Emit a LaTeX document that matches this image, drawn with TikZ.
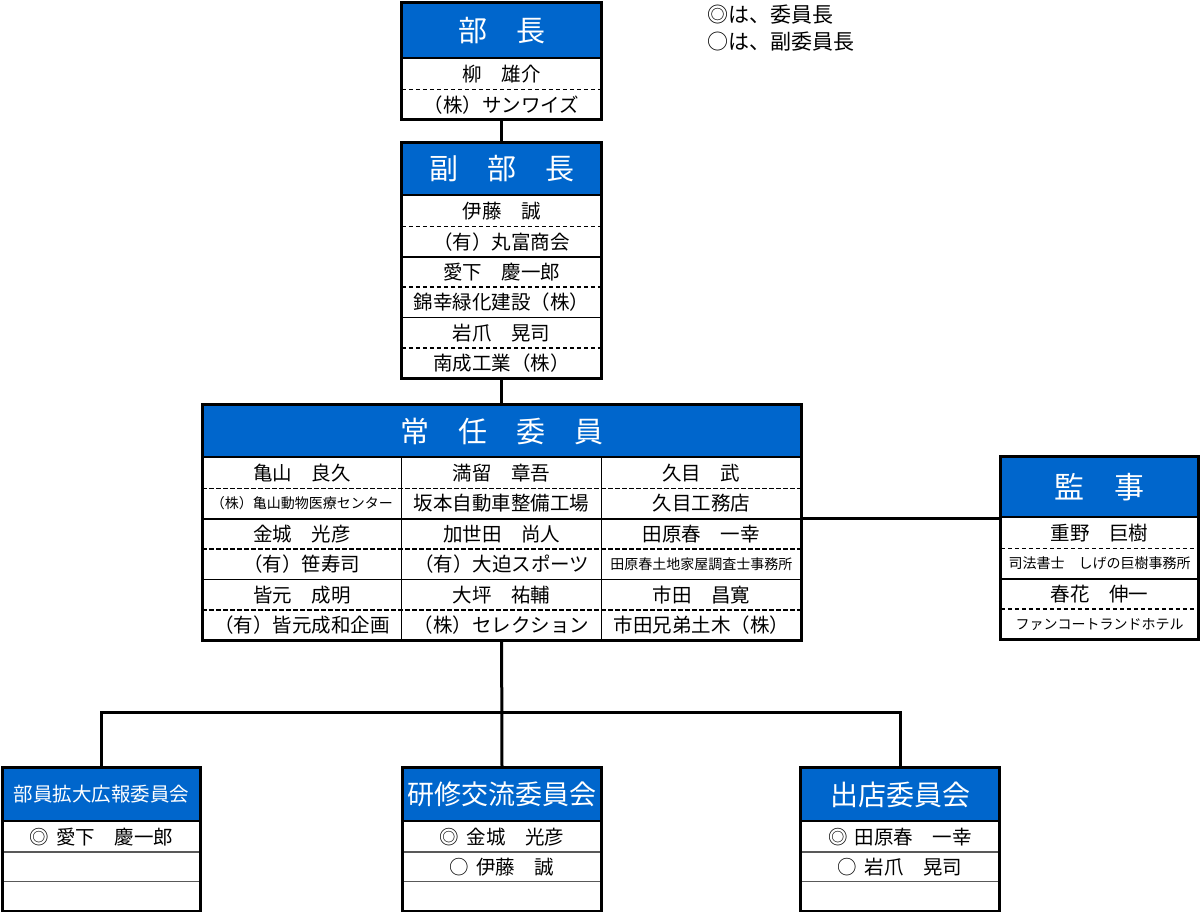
\documentclass[tikz,border=0pt]{standalone}
\usepackage{fontspec}
\setmainfont{Noto Sans CJK JP}
\usepackage{xcolor}
\usepackage{tikz}
\usetikzlibrary{positioning}
\definecolor{headblue}{RGB}{0,102,204}
\newcommand{\ptsize}[1]{\fontsize{#1}{#1}\selectfont}

\begin{document}
\begin{tikzpicture}[x=1pt, y=-1pt,
  head/.style={draw, line width=2pt, fill=headblue, text=white, anchor=north west, inner sep=0pt, font=\ptsize{29}},
  cell/.style={inner sep=0pt, minimum width=#1, minimum height=30pt, font=\ptsize{19.5}},
  cell/.default=199pt,
  small/.style={font=\ptsize{14}},
  frame/.style={draw, line width=3pt},
  dline/.style={dash pattern=on 4.5pt off 2.5pt, line width=1.7pt},
  sline/.style={line width=1.5pt},
  gline/.style={gray!70!black, line width=1.3pt},
  conn/.style={line width=3pt}
]
  \useasboundingbox (0,0) rectangle (1200,911);

  % legend
  \node[anchor=north west, align=left, inner sep=0pt, font=\ptsize{21}] (note) at (707,5)
    {◎は、委員長\\[6pt]○は、副委員長};

  % bucho
  \node[head, minimum width=199pt, minimum height=55pt] (bucho) at (401,2) {部　長};
  \node[cell, below=0pt of bucho] (bucho1) {柳　雄介};
  \node[cell, below=0pt of bucho1] (bucho2) {（株）サンワイズ};
  \draw[dline] (bucho1.south west) -- (bucho1.south east);
  \draw[frame] (bucho.north west) rectangle (bucho2.south east);

  % fuku-bucho
  \node[head, minimum width=199pt, minimum height=52pt] (fuku) at (401,142) {副　部　長};
  \node[cell, below=0pt of fuku]  (fuku1) {伊藤　誠};
  \node[cell, below=0pt of fuku1] (fuku2) {（有）丸富商会};
  \node[cell, below=0pt of fuku2] (fuku3) {愛下　慶一郎};
  \node[cell, below=0pt of fuku3] (fuku4) {錦幸緑化建設（株）};
  \node[cell, below=0pt of fuku4] (fuku5) {岩爪　晃司};
  \node[cell, below=0pt of fuku5] (fuku6) {南成工業（株）};
  \draw[dline] (fuku1.south west) -- (fuku1.south east);
  \draw[sline] (fuku2.south west) -- (fuku2.south east);
  \draw[dline] (fuku3.south west) -- (fuku3.south east);
  \draw[sline] (fuku4.south west) -- (fuku4.south east);
  \draw[dline] (fuku5.south west) -- (fuku5.south east);
  \draw[frame] (fuku.north west) rectangle (fuku6.south east);

  % jonin iin
  \node[head, minimum width=598pt, minimum height=52pt] (jonin) at (202,404) {常　任　委　員};
  \node[cell=199.33pt, anchor=north west] (j11) at (jonin.south west) {亀山　良久};
  \node[cell=199.33pt, below=0pt of j11, small] (j12) {（株）亀山動物医療センター};
  \node[cell=199.33pt, below=0pt of j12] (j13) {金城　光彦};
  \node[cell=199.33pt, below=0pt of j13] (j14) {（有）笹寿司};
  \node[cell=199.33pt, below=0pt of j14] (j15) {皆元　成明};
  \node[cell=199.33pt, below=0pt of j15] (j16) {（有）皆元成和企画};
  \node[cell=199.33pt, right=0pt of j11] (j21) {満留　章吾};
  \node[cell=199.33pt, below=0pt of j21] (j22) {坂本自動車整備工場};
  \node[cell=199.33pt, below=0pt of j22] (j23) {加世田　尚人};
  \node[cell=199.33pt, below=0pt of j23] (j24) {（有）大迫スポーツ};
  \node[cell=199.33pt, below=0pt of j24] (j25) {大坪　祐輔};
  \node[cell=199.33pt, below=0pt of j25] (j26) {（株）セレクション};
  \node[cell=199.33pt, right=0pt of j21] (j31) {久目　武};
  \node[cell=199.33pt, below=0pt of j31] (j32) {久目工務店};
  \node[cell=199.33pt, below=0pt of j32] (j33) {田原春　一幸};
  \node[cell=199.33pt, below=0pt of j33, small] (j34) {田原春土地家屋調査士事務所};
  \node[cell=199.33pt, below=0pt of j34] (j35) {市田　昌寛};
  \node[cell=199.33pt, below=0pt of j35] (j36) {市田兄弟土木（株）};
  \draw[dline] (j11.south west) -- (j31.south east);
  \draw[sline] (j12.south west) -- (j32.south east);
  \draw[dline] (j13.south west) -- (j33.south east);
  \draw[sline] (j14.south west) -- (j34.south east);
  \draw[dline] (j15.south west) -- (j35.south east);
  \draw[sline] (j11.north east) -- (j16.south east);
  \draw[sline] (j21.north east) -- (j26.south east);
  \draw[frame] (jonin.north west) rectangle (j36.south east);

  % kanji
  \node[head, minimum width=197pt, minimum height=60pt, font=\ptsize{30}] (kanji) at (1000,456) {監　事};
  \node[cell=197pt, below=0pt of kanji]  (kanji1) {重野　巨樹};
  \node[cell=197pt, below=0pt of kanji1, small] (kanji2) {司法書士　しげの巨樹事務所};
  \node[cell=197pt, below=0pt of kanji2] (kanji3) {春花　伸一};
  \node[cell=197pt, below=0pt of kanji3, small] (kanji4) {ファンコートランドホテル};
  \draw[dline] (kanji1.south west) -- (kanji1.south east);
  \draw[sline] (kanji2.south west) -- (kanji2.south east);
  \draw[dline] (kanji3.south west) -- (kanji3.south east);
  \draw[frame] (kanji.north west) rectangle (kanji4.south east);

  % committees
  \node[head, minimum width=197pt, minimum height=53pt, font=\ptsize{19.5}] (bukai) at (2,767) {部員拡大広報委員会};
  \node[cell=197pt, below=0pt of bukai, minimum height=29.5pt]  (bukai1) {◎\hspace{3pt} 愛下　慶一郎};
  \node[cell=197pt, below=0pt of bukai1, minimum height=29.5pt] (bukai2) {};
  \node[cell=197pt, below=0pt of bukai2, minimum height=29.5pt] (bukai3) {};
  \draw[gline] (bukai1.south west) -- (bukai1.south east);
  \draw[gline] (bukai2.south west) -- (bukai2.south east);
  \draw[frame] (bukai.north west) rectangle (bukai3.south east);

  \node[head, minimum width=198pt, minimum height=53pt, font=\ptsize{27}] (kenshu) at (402,767) {研修交流委員会};
  \node[cell=198pt, below=0pt of kenshu, minimum height=29.5pt]  (kenshu1) {◎\hspace{3pt} 金城　光彦};
  \node[cell=198pt, below=0pt of kenshu1, minimum height=29.5pt] (kenshu2) {○\hspace{3pt} 伊藤　誠};
  \node[cell=198pt, below=0pt of kenshu2, minimum height=29.5pt] (kenshu3) {};
  \draw[gline] (kenshu1.south west) -- (kenshu1.south east);
  \draw[gline] (kenshu2.south west) -- (kenshu2.south east);
  \draw[frame] (kenshu.north west) rectangle (kenshu3.south east);

  \node[head, minimum width=198pt, minimum height=53pt, font=\ptsize{28}] (shutten) at (800,767) {出店委員会};
  \node[cell=198pt, below=0pt of shutten, minimum height=29.5pt]  (shutten1) {◎\hspace{3pt} 田原春　一幸};
  \node[cell=198pt, below=0pt of shutten1, minimum height=29.5pt] (shutten2) {○\hspace{3pt} 岩爪　晃司};
  \node[cell=198pt, below=0pt of shutten2, minimum height=29.5pt] (shutten3) {};
  \draw[gline] (shutten1.south west) -- (shutten1.south east);
  \draw[gline] (shutten2.south west) -- (shutten2.south east);
  \draw[frame] (shutten.north west) rectangle (shutten3.south east);

  % connectors
  \coordinate (branch) at (501,712);
  \draw[conn] (bucho2.south) -- (fuku.north);
  \draw[conn] (fuku6.south) -- (fuku6.south |- jonin.north);
  \draw[conn] (kanji.south west) -- (kanji.south west -| j36.east);
  \draw[conn] (j26.south) -- (kenshu.north);
  \draw[conn] (bukai.north) -- (bukai.north |- branch) -- (shutten.north |- branch) -- (shutten.north);
\end{tikzpicture}
\end{document}
